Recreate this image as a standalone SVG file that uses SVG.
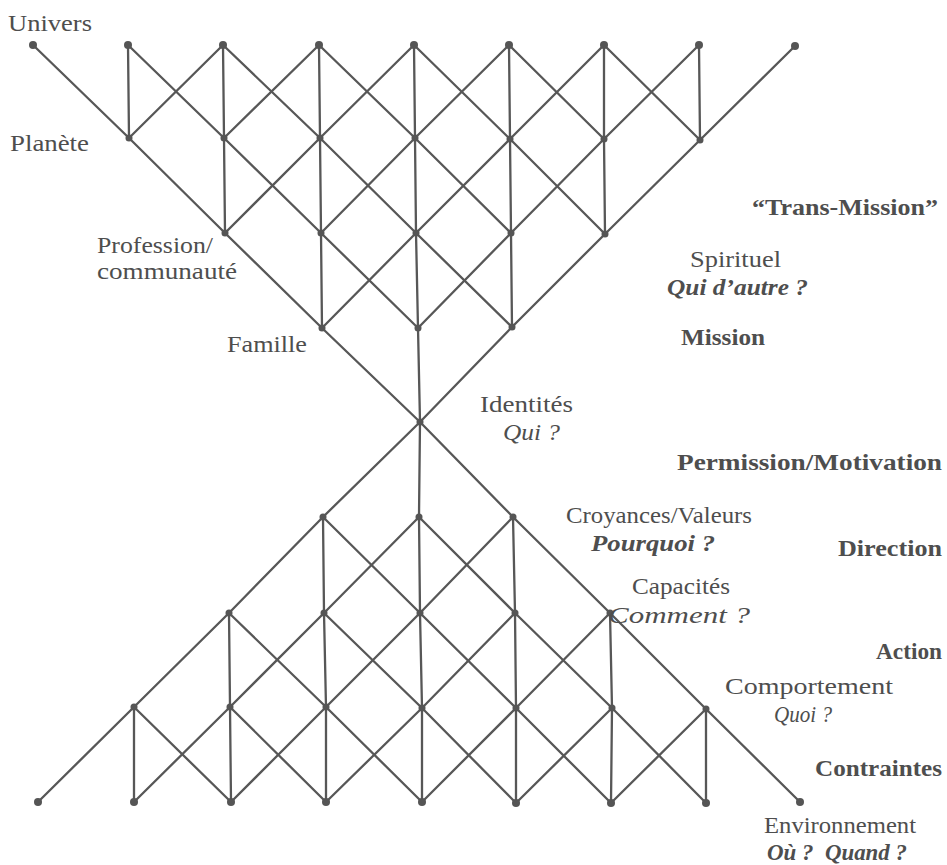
<svg xmlns="http://www.w3.org/2000/svg" width="947" height="865" viewBox="0 0 947 865">
  <style>
    .ln { fill: none; stroke: #575757; stroke-width: 2.3; stroke-linejoin: round; stroke-linecap: round; }
    .dot { fill: #555; }
    text { font-family: "Liberation Serif", "DejaVu Serif", serif; fill: #4e4e4e; font-size: 23px; }
    .b { font-weight: bold; }
    .i { font-style: italic; }
    .bi { font-weight: bold; font-style: italic; }
  </style>
  <rect width="947" height="865" fill="#ffffff"/>

  <!-- lattice connectors -->
  <g id="connectors" class="ln">
    <!-- upper fan: descending to the right -->
    <polyline points="33,45 129,138 225,233 322,328 420,422"/>
    <polyline points="128,45 224,138 321,233 418,328"/>
    <polyline points="223,45 320,138 416,233 512,327"/>
    <polyline points="319,45 415,138 511,233"/>
    <polyline points="414,45 510,139 605,234"/>
    <polyline points="509,45 604,139"/>
    <polyline points="604,45 700,140"/>
    <!-- upper fan: descending to the left -->
    <polyline points="795,46 700,140 605,234 512,327 420,422"/>
    <polyline points="699,45 604,139 511,233 418,328"/>
    <polyline points="604,45 510,139 416,233 322,328"/>
    <polyline points="509,45 415,138 321,233"/>
    <polyline points="414,45 320,138 225,233"/>
    <polyline points="319,45 224,138"/>
    <polyline points="223,45 129,138"/>
    <!-- upper fan: verticals -->
    <polyline points="128,45 129,138"/>
    <polyline points="223,45 224,138 225,233"/>
    <polyline points="319,45 320,138 321,233 322,328"/>
    <polyline points="414,45 415,138 416,233 418,328 420,422 419,517 420,613 422,708 422,802"/>
    <polyline points="509,45 510,139 511,233 512,327"/>
    <polyline points="604,45 604,139 605,234"/>
    <polyline points="699,45 700,140"/>

    <!-- lower fan: rising to the right -->
    <polyline points="38,802 134,707 229,613 323,517 420,422"/>
    <polyline points="134,802 230,707 324,613 419,517"/>
    <polyline points="231,802 326,707 420,613 513,517"/>
    <polyline points="326,802 422,708 515,613"/>
    <polyline points="422,802 516,708 610,613"/>
    <polyline points="516,803 612,708"/>
    <polyline points="611,803 706,709"/>
    <!-- lower fan: rising to the left -->
    <polyline points="800,802 706,709 610,613 513,517 420,422"/>
    <polyline points="706,803 612,708 515,613 419,517"/>
    <polyline points="611,803 516,708 420,613 323,517"/>
    <polyline points="516,803 422,708 324,613"/>
    <polyline points="422,802 326,707 229,613"/>
    <polyline points="326,802 230,707"/>
    <polyline points="231,802 134,707"/>
    <!-- lower fan: verticals -->
    <polyline points="134,707 134,802"/>
    <polyline points="229,613 230,707 231,802"/>
    <polyline points="323,517 324,613 326,707 326,802"/>
    <polyline points="513,517 515,613 516,708 516,803"/>
    <polyline points="610,613 612,708 611,803"/>
    <polyline points="706,709 706,803"/>
  </g>

  <!-- lattice nodes -->
  <g id="nodes">
    <g id="n0-m4"><circle class="dot" cx="33" cy="45" r="4"/></g>
    <g id="n0-m3"><circle class="dot" cx="128" cy="45" r="4"/></g>
    <g id="n0-m2"><circle class="dot" cx="223" cy="45" r="4"/></g>
    <g id="n0-m1"><circle class="dot" cx="319" cy="45" r="4"/></g>
    <g id="n0-0"><circle class="dot" cx="414" cy="45" r="4"/></g>
    <g id="n0-p1"><circle class="dot" cx="509" cy="45" r="4"/></g>
    <g id="n0-p2"><circle class="dot" cx="604" cy="45" r="4"/></g>
    <g id="n0-p3"><circle class="dot" cx="699" cy="45" r="4"/></g>
    <g id="n0-p4"><circle class="dot" cx="795" cy="46" r="4"/></g>

    <g id="n1-m3"><circle class="dot" cx="129" cy="138" r="3.5"/></g>
    <g id="n1-m2"><circle class="dot" cx="224" cy="138" r="3.5"/></g>
    <g id="n1-m1"><circle class="dot" cx="320" cy="138" r="3.5"/></g>
    <g id="n1-0"><circle class="dot" cx="415" cy="138" r="3.5"/></g>
    <g id="n1-p1"><circle class="dot" cx="510" cy="139" r="3.5"/></g>
    <g id="n1-p2"><circle class="dot" cx="604" cy="139" r="3.5"/></g>
    <g id="n1-p3"><circle class="dot" cx="700" cy="140" r="3.5"/></g>

    <g id="n2-m2"><circle class="dot" cx="225" cy="233" r="3.5"/></g>
    <g id="n2-m1"><circle class="dot" cx="321" cy="233" r="3.5"/></g>
    <g id="n2-0"><circle class="dot" cx="416" cy="233" r="3.5"/></g>
    <g id="n2-p1"><circle class="dot" cx="511" cy="233" r="3.5"/></g>
    <g id="n2-p2"><circle class="dot" cx="605" cy="234" r="3.5"/></g>

    <g id="n3-m1"><circle class="dot" cx="322" cy="328" r="3.5"/></g>
    <g id="n3-0"><circle class="dot" cx="418" cy="328" r="3.5"/></g>
    <g id="n3-p1"><circle class="dot" cx="512" cy="327" r="3.5"/></g>

    <g id="n4-0"><circle class="dot" cx="420" cy="422" r="3.5"/></g>

    <g id="n5-m1"><circle class="dot" cx="323" cy="517" r="3.5"/></g>
    <g id="n5-0"><circle class="dot" cx="419" cy="517" r="3.5"/></g>
    <g id="n5-p1"><circle class="dot" cx="513" cy="517" r="3.5"/></g>

    <g id="n6-m2"><circle class="dot" cx="229" cy="613" r="3.5"/></g>
    <g id="n6-m1"><circle class="dot" cx="324" cy="613" r="3.5"/></g>
    <g id="n6-0"><circle class="dot" cx="420" cy="613" r="3.5"/></g>
    <g id="n6-p1"><circle class="dot" cx="515" cy="613" r="3.5"/></g>
    <g id="n6-p2"><circle class="dot" cx="610" cy="613" r="3.5"/></g>

    <g id="n7-m3"><circle class="dot" cx="134" cy="707" r="3.5"/></g>
    <g id="n7-m2"><circle class="dot" cx="230" cy="707" r="3.5"/></g>
    <g id="n7-m1"><circle class="dot" cx="326" cy="707" r="3.5"/></g>
    <g id="n7-0"><circle class="dot" cx="422" cy="708" r="3.5"/></g>
    <g id="n7-p1"><circle class="dot" cx="516" cy="708" r="3.5"/></g>
    <g id="n7-p2"><circle class="dot" cx="612" cy="708" r="3.5"/></g>
    <g id="n7-p3"><circle class="dot" cx="706" cy="709" r="3.5"/></g>

    <g id="n8-m4"><circle class="dot" cx="38" cy="802" r="4"/></g>
    <g id="n8-m3"><circle class="dot" cx="134" cy="802" r="4"/></g>
    <g id="n8-m2"><circle class="dot" cx="231" cy="802" r="4"/></g>
    <g id="n8-m1"><circle class="dot" cx="326" cy="802" r="4"/></g>
    <g id="n8-0"><circle class="dot" cx="422" cy="802" r="4"/></g>
    <g id="n8-p1"><circle class="dot" cx="516" cy="803" r="4"/></g>
    <g id="n8-p2"><circle class="dot" cx="611" cy="803" r="4"/></g>
    <g id="n8-p3"><circle class="dot" cx="706" cy="803" r="4"/></g>
    <g id="n8-p4"><circle class="dot" cx="800" cy="802" r="4"/></g>
  </g>

  <!-- system levels on the left -->
  <g id="lbl-univers"><text x="8" y="31" textLength="84" lengthAdjust="spacingAndGlyphs">Univers</text></g>
  <g id="lbl-planete"><text x="10" y="151" textLength="79" lengthAdjust="spacingAndGlyphs">Planète</text></g>
  <g id="lbl-profession">
    <text x="97" y="253" textLength="116" lengthAdjust="spacingAndGlyphs">Profession/</text>
    <text x="97" y="279" textLength="140" lengthAdjust="spacingAndGlyphs">communauté</text>
  </g>
  <g id="lbl-famille"><text x="227" y="352" textLength="80" lengthAdjust="spacingAndGlyphs">Famille</text></g>

  <!-- logical levels -->
  <g id="lbl-spirituel">
    <text x="690" y="267" textLength="91" lengthAdjust="spacingAndGlyphs">Spirituel</text>
    <text class="bi" x="667" y="295" textLength="141" lengthAdjust="spacingAndGlyphs">Qui d’autre ?</text>
  </g>
  <g id="lbl-identites">
    <text x="480" y="412" textLength="93" lengthAdjust="spacingAndGlyphs">Identités</text>
    <text class="i" x="503" y="440" textLength="57" lengthAdjust="spacingAndGlyphs">Qui ?</text>
  </g>
  <g id="lbl-croyances">
    <text x="566" y="523" textLength="186" lengthAdjust="spacingAndGlyphs">Croyances/Valeurs</text>
    <text class="bi" x="591" y="551" textLength="124" lengthAdjust="spacingAndGlyphs">Pourquoi ?</text>
  </g>
  <g id="lbl-capacites">
    <text x="632" y="594" textLength="98" lengthAdjust="spacingAndGlyphs">Capacités</text>
    <text class="i" x="608" y="623" textLength="142" lengthAdjust="spacingAndGlyphs">Comment ?</text>
  </g>
  <g id="lbl-comportement">
    <text x="725" y="694" textLength="168" lengthAdjust="spacingAndGlyphs">Comportement</text>
    <text class="i" x="774" y="722" textLength="58" lengthAdjust="spacingAndGlyphs">Quoi ?</text>
  </g>
  <g id="lbl-environnement">
    <text x="764" y="833" textLength="152" lengthAdjust="spacingAndGlyphs">Environnement</text>
    <text class="bi" x="767" y="860" textLength="140" lengthAdjust="spacingAndGlyphs" xml:space="preserve">Où ?  Quand ?</text>
  </g>

  <!-- functions between levels -->
  <g id="lbl-transmission"><text class="b" x="752" y="215" textLength="186" lengthAdjust="spacingAndGlyphs">“Trans-Mission”</text></g>
  <g id="lbl-mission"><text class="b" x="681" y="345" textLength="84" lengthAdjust="spacingAndGlyphs">Mission</text></g>
  <g id="lbl-permission"><text class="b" x="677" y="470" textLength="265" lengthAdjust="spacingAndGlyphs">Permission/Motivation</text></g>
  <g id="lbl-direction"><text class="b" x="838" y="556" textLength="104" lengthAdjust="spacingAndGlyphs">Direction</text></g>
  <g id="lbl-action"><text class="b" x="876" y="659" textLength="66" lengthAdjust="spacingAndGlyphs">Action</text></g>
  <g id="lbl-contraintes"><text class="b" x="815" y="776" textLength="127" lengthAdjust="spacingAndGlyphs">Contraintes</text></g>
</svg>
